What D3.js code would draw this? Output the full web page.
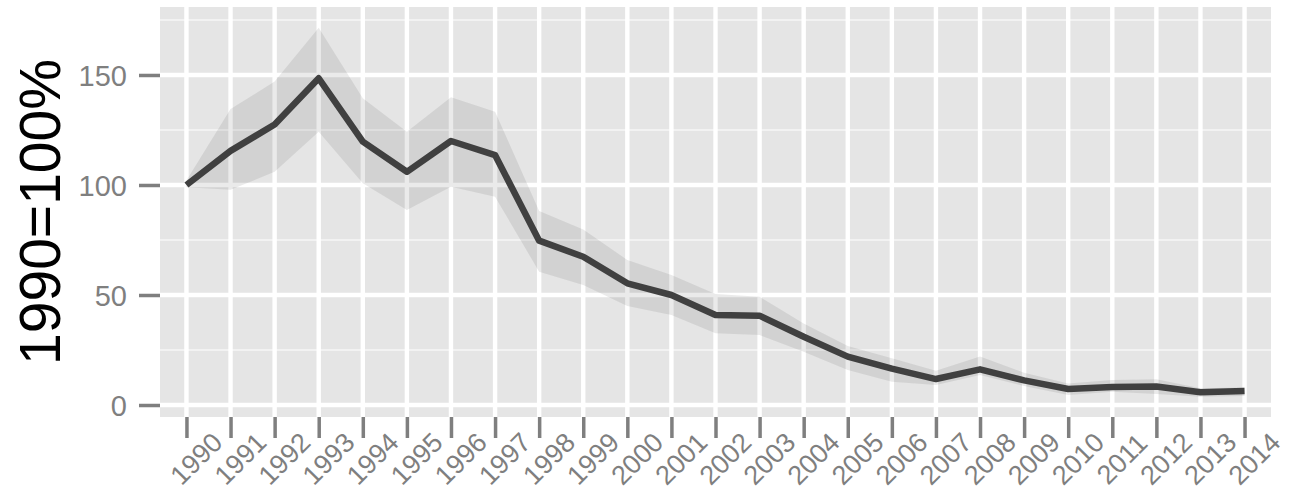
<!DOCTYPE html>
<html>
<head>
<meta charset="utf-8">
<script src="https://cdn.jsdelivr.net/npm/d3@7"></script>
<style>
html,body{margin:0;padding:0;background:#fff;}
svg{display:block;}
</style>
</head>
<body>
<svg id="chart" width="1289" height="501"></svg>
<script>
const years = ["1990","1991","1992","1993","1994","1995","1996","1997","1998","1999","2000","2001","2002","2003","2004","2005","2006","2007","2008","2009","2010","2011","2012","2013","2014"];
const values = [100,115.5,127.5,148.5,119.7,106,120,113.6,74.7,67.4,55.3,50,40.9,40.6,31,22,16.5,11.8,16.2,11.2,7.3,8.2,8.4,5.8,6.4];
const upper = [102,134.5,147,171.5,139.4,124.2,139.9,133.3,88.2,79.8,65.9,59.1,50.5,49.2,37.1,26.8,21.2,15.6,22,14.7,9.8,11.4,11.7,7.6,8];
const lower = [99,97.8,106,124.2,100.8,88.6,99.2,94.7,60.6,54.5,45,40.9,32.6,31.8,24.2,15.9,10.6,9.1,13.6,8.6,4.5,6,5,3.8,4.1];
const yMajor = [0,50,100,150];
const yMinor = [25,75,125,175];
const yTitle = "1990=100%";

const svg = d3.select("#chart");
const panel = {left:160, right:1271, top:7, bottom:417};

const x = d3.scalePoint().domain(years).range([panel.left, panel.right]).padding(0.6);
const y = d3.scaleLinear().domain([-5.45, 180.9]).range([panel.bottom, panel.top]);

const data = years.map((yr,i)=>({yr, v:values[i], hi:upper[i], lo:lower[i]}));

// panel background
svg.append("rect").attr("x",panel.left).attr("y",panel.top)
  .attr("width",panel.right-panel.left).attr("height",panel.bottom-panel.top)
  .attr("fill","#E5E5E5");

const grid = svg.append("g");
grid.selectAll("line.minor").data(yMinor).enter().append("line")
  .attr("x1",panel.left).attr("x2",panel.right)
  .attr("y1",d=>y(d)).attr("y2",d=>y(d))
  .attr("stroke","#F2F2F2").attr("stroke-width",2.2);
grid.selectAll("line.majory").data(yMajor).enter().append("line")
  .attr("x1",panel.left).attr("x2",panel.right)
  .attr("y1",d=>y(d)).attr("y2",d=>y(d))
  .attr("stroke","#FFFFFF").attr("stroke-width",4.4);
grid.selectAll("line.majorx").data(years).enter().append("line")
  .attr("x1",d=>x(d)).attr("x2",d=>x(d))
  .attr("y1",panel.top).attr("y2",panel.bottom)
  .attr("stroke","#FFFFFF").attr("stroke-width",4.4);

// ribbon
const area = d3.area().x(d=>x(d.yr)).y0(d=>y(d.lo)).y1(d=>y(d.hi));
svg.append("path").datum(data).attr("d",area)
  .attr("fill","#333333").attr("fill-opacity",0.1);

// line
const line = d3.line().x(d=>x(d.yr)).y(d=>y(d.v));
svg.append("path").datum(data).attr("d",line)
  .attr("fill","none").attr("stroke","#404040").attr("stroke-width",6.5)
  .attr("stroke-linejoin","round").attr("stroke-linecap","butt");

// y axis
const yAxis = d3.axisLeft(y).tickValues(yMajor).tickSize(21).tickPadding(12).tickFormat(d3.format("d"));
const gy = svg.append("g").attr("transform",`translate(${panel.left},0)`).call(yAxis);
gy.select(".domain").remove();
gy.selectAll(".tick line").attr("stroke","#7F7F7F").attr("stroke-width",3.5);
gy.selectAll(".tick text").attr("fill","#7F7F7F").attr("font-family","'Liberation Sans', Arial, sans-serif")
  .attr("font-size",29).attr("dy","0.36em");

// x axis
const xAxis = d3.axisBottom(x).tickSize(21).tickSizeOuter(0);
const gx = svg.append("g").attr("transform",`translate(0,${panel.bottom})`).call(xAxis);
gx.select(".domain").remove();
gx.selectAll(".tick line").attr("stroke","#7F7F7F").attr("stroke-width",3.5);
gx.selectAll(".tick text").attr("fill","#7F7F7F").attr("font-family","'Liberation Sans', Arial, sans-serif")
  .attr("font-size",27).attr("text-anchor","middle").attr("dy",null)
  .attr("dominant-baseline","central")
  .attr("y",0)
  .attr("transform","translate(9.5,42) rotate(-45)");

// y title
svg.append("text")
  .attr("transform",`translate(60,${(panel.top+panel.bottom)/2}) rotate(-90)`)
  .attr("text-anchor","middle")
  .attr("font-family","'Liberation Sans', Arial, sans-serif")
  .attr("font-size",57).attr("fill","#000")
  .text(yTitle);
</script>
</body>
</html>
